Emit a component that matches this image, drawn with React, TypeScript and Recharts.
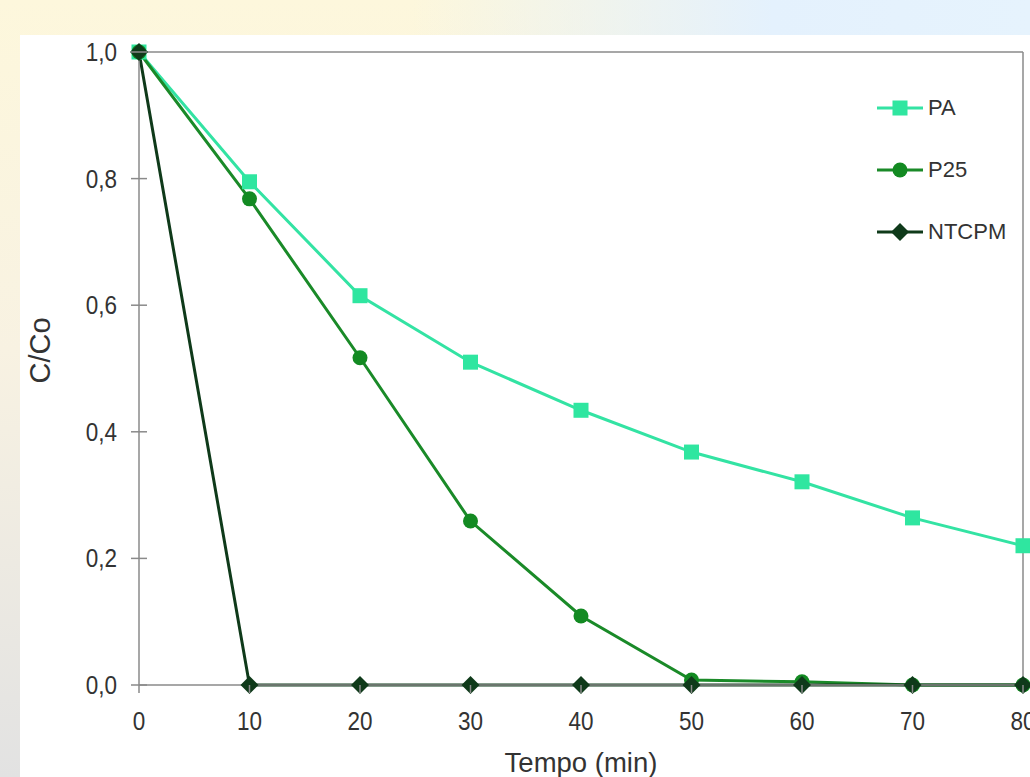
import React from 'react';
import { LineChart, Line, XAxis, YAxis, ReferenceLine, Label } from 'recharts';

const tempo = [0, 10, 20, 30, 40, 50, 60, 70, 80];
const pa = [1.0, 0.795, 0.615, 0.51, 0.434, 0.368, 0.321, 0.264, 0.22];
const p25 = [1.0, 0.768, 0.517, 0.259, 0.109, 0.008, 0.005, 0.0, 0.0];
const ntcpm = [1.0, 0, 0, 0, 0, 0, 0, 0, 0];
const yTicks = [0, 0.2, 0.4, 0.6, 0.8, 1.0];

const data = tempo.map((t, i) => ({ t, PA: pa[i], P25: p25[i], NTCPM: ntcpm[i] }));

const FONT = '"Liberation Sans", Arial, sans-serif';
const AXIS = '#8a8a8a';
const TXT = '#333';

const Square = (props: any) => {
  const { cx, cy, fill } = props;
  if (cx == null || cy == null) return null;
  return <rect x={cx - 7.5} y={cy - 7.5} width={15} height={15} fill={fill} />;
};
const Dot = (props: any) => {
  const { cx, cy, fill } = props;
  if (cx == null || cy == null) return null;
  return <circle cx={cx} cy={cy} r={7.5} fill={fill} />;
};
const Diamond = (props: any) => {
  const { cx, cy, fill } = props;
  if (cx == null || cy == null) return null;
  return <path d={`M${cx},${cy - 9}L${cx + 9},${cy}L${cx},${cy + 9}L${cx - 9},${cy}Z`} fill={fill} />;
};

const series = [
  { key: 'PA', line: '#33e3a3', mark: '#2fe6a0', shape: 'square' },
  { key: 'P25', line: '#1a8a28', mark: '#138a22', shape: 'circle' },
  { key: 'NTCPM', line: '#0f3a1a', mark: '#0f3a1a', shape: 'diamond' },
];
const shapes: Record<string, any> = { square: Square, circle: Dot, diamond: Diamond };

const YTick = (props: any) => {
  const { x, y, payload } = props;
  return (
    <g>
      <line x1={x - 8} x2={x + 8} y1={y} y2={y} stroke={AXIS} strokeWidth={1.5} />
      <text transform={`translate(${x - 22},${y}) scale(0.9,1)`} dy="0.36em" textAnchor="end" fontFamily={FONT} fontSize={25} fill={TXT}>
        {payload.value.toFixed(1).replace('.', ',')}
      </text>
    </g>
  );
};
const XTick = (props: any) => {
  const { x, y, payload } = props;
  return (
    <g>
      <line x1={x} x2={x} y1={y} y2={y + 8} stroke={AXIS} strokeWidth={1.5} />
      <text transform={`translate(${x},${y + 27}) scale(0.9,1)`} dy="0.71em" textAnchor="middle" fontFamily={FONT} fontSize={25} fill={TXT}>
        {payload.value}
      </text>
    </g>
  );
};

const XTitle = (props: any) => {
  const { viewBox } = props;
  const cx = viewBox.x + viewBox.width / 2;
  return (
    <text x={cx} y={772} textAnchor="middle" fontFamily={FONT} fontSize={27.5} fill={TXT}>
      Tempo (min)
    </text>
  );
};
const YTitle = (props: any) => {
  const { viewBox } = props;
  const cy = viewBox.y + viewBox.height / 2 - 18;
  return (
    <text transform={`translate(50,${cy}) rotate(-90)`} textAnchor="middle" fontFamily={FONT} fontSize={29} fill={TXT}>
      C/Co
    </text>
  );
};

export default function App() {
  return (
    <div
      style={{
        position: 'absolute',
        left: 0,
        top: 0,
        width: 1030,
        height: 777,
        overflow: 'hidden',
        background:
          'linear-gradient(90deg, rgba(253,247,220,0) 0%, rgba(253,247,220,0) 40%, #e4f1fd 75%, #e6f3fd 100%), linear-gradient(180deg, #fdf7dc 0%, #f8f2e2 45%, #e2e2e2 100%)',
      }}
    >
      <div style={{ position: 'absolute', left: 20, top: 35, width: 1010, height: 742, background: '#fff' }} />
      <div style={{ position: 'absolute', left: 0, top: 0 }}>
        <LineChart width={1030} height={777} data={data} margin={{ top: 52, right: 7, left: 0, bottom: 0 }}>
          <XAxis
            dataKey="t"
            type="number"
            domain={[0, 80]}
            ticks={tempo}
            height={92}
            tickSize={0}
            tickMargin={0}
            tickLine={false}
            stroke={AXIS}
            strokeWidth={1.5}
            tick={<XTick />}
            interval={0}
          >
            <Label content={<XTitle />} />
          </XAxis>
          <YAxis
            type="number"
            domain={[0, 1]}
            ticks={yTicks}
            width={139}
            tickSize={0}
            tickMargin={0}
            tickLine={false}
            stroke={AXIS}
            strokeWidth={1.5}
            tick={<YTick />}
            interval={0}
          >
            <Label content={<YTitle />} />
          </YAxis>
          <ReferenceLine y={1} stroke={AXIS} strokeWidth={1.5} />
          <ReferenceLine x={80} stroke={AXIS} strokeWidth={1.5} />
          {series.map((s) => {
            const Shape = shapes[s.shape];
            return (
              <Line
                key={s.key}
                dataKey={s.key}
                name={s.key}
                stroke={s.line}
                fill={s.mark}
                strokeWidth={3}
                dot={<Shape />}
                activeDot={false}
                isAnimationActive={false}
              />
            );
          })}
        </LineChart>
      </div>
      <div style={{ position: 'absolute', left: 877, top: 77, fontFamily: FONT, fontSize: 22, color: TXT }}>
        {series.map((s) => {
          const Shape = shapes[s.shape];
          return (
            <div key={s.key} style={{ display: 'flex', alignItems: 'center', height: 62 }}>
              <svg width={48} height={20}>
                <line x1={0} x2={46} y1={10} y2={10} stroke={s.line} strokeWidth={3} />
                <Shape cx={23} cy={10} fill={s.mark} />
              </svg>
              <span style={{ marginLeft: 3 }}>{s.key}</span>
            </div>
          );
        })}
      </div>
    </div>
  );
}
